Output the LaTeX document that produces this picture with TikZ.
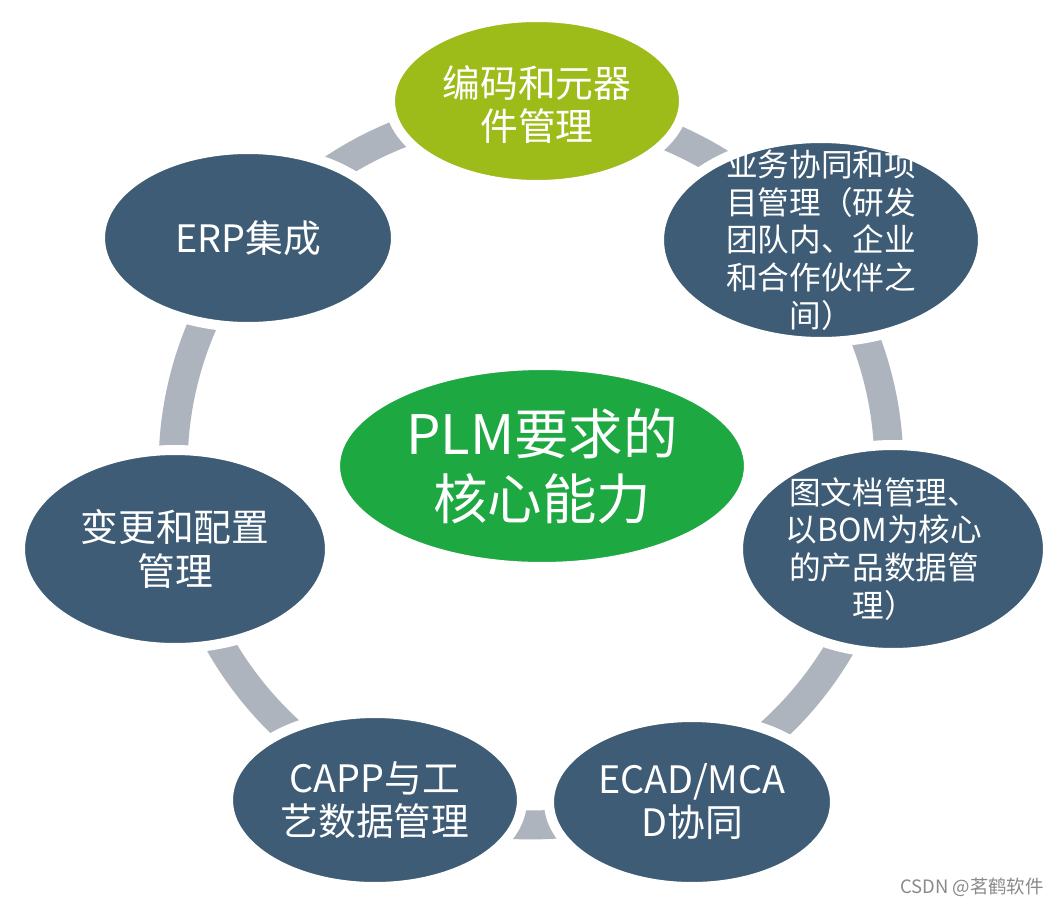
\documentclass[tikz,border=0pt]{standalone}
\usepackage{fontspec}
\setmainfont{Noto Sans CJK SC}
\usetikzlibrary{shapes.geometric}

\definecolor{plmNode}{HTML}{3E5C75}
\definecolor{plmLime}{HTML}{9DBB19}
\definecolor{plmCore}{HTML}{1EA842}
\definecolor{plmRing}{HTML}{AEB4BD}
\definecolor{plmMark}{HTML}{8A8A8A}

\tikzset{
  plmnode/.style={
    ellipse, draw=white, line width=0.2cm, fill=plmNode, inner sep=0pt
  },
  limenode/.style={plmnode, fill=plmLime},
  corenode/.style={plmnode, fill=plmCore},
  plmtext/.style={
    text=white, align=center, inner sep=0pt,
    font=\fontsize{18}{21.5}\selectfont
  },
  bigtext/.style={plmtext, font=\fontsize{21.5}{24.5}\selectfont},
  coretext/.style={plmtext, font=\fontsize{31}{37}\selectfont},
  ring/.style={draw=plmRing, line width=0.58cm},
  creditmark/.style={text=plmMark, inner sep=0pt, font=\fontsize{10.5}{12}\selectfont}
}

\begin{document}
\begin{tikzpicture}[x=0.02cm, y=-0.02cm]
  \useasboundingbox (0,0) rectangle (1064,906);
  \fill[white] (0,0) rectangle (1064,906);

  % gray ring behind the seven items
  \coordinate (hub) at (531,467);
  \draw[ring] (hub) circle[radius=7.16cm];

  % outer items
  \node[limenode, minimum width=5.88cm, minimum height=3.36cm] (coding) at (537,101) {};
  \node[plmnode, minimum width=6.48cm, minimum height=4.08cm] (collab) at (821,240) {};
  \node[plmnode, minimum width=6.20cm, minimum height=4.16cm] (docs) at (893,549) {};
  \node[plmnode, minimum width=5.72cm, minimum height=3.40cm] (ecad) at (692,802) {};
  \node[plmnode, minimum width=5.88cm, minimum height=3.48cm] (capp) at (375,800) {};
  \node[plmnode, minimum width=6.20cm, minimum height=3.96cm] (change) at (175,549) {};
  \node[plmnode, minimum width=5.92cm, minimum height=3.56cm] (erp) at (248,238) {};

  % centre
  \node[corenode, minimum width=8.28cm, minimum height=4.04cm] (core) at (542,466) {};

  % texts
  \node[bigtext] (coding-t) at ([yshift=-0.08cm]coding) {编码和元器\\件管理};
  \node[plmtext] (collab-t) at (collab) {业务协同和项\\目管理（研发\\团队内、企业\\和合作伙伴之\\间）};
  \node[plmtext] (docs-t) at ([xshift=-0.18cm]docs) {图文档管理、\\以BOM为核心\\的产品数据管\\理）};
  \node[bigtext] (ecad-t) at (ecad) {ECAD/MCA\\D协同};
  \node[bigtext] (capp-t) at (capp) {CAPP与工\\艺数据管理};
  \node[bigtext] (change-t) at (change) {变更和配置\\管理};
  \node[bigtext] (erp-t) at (erp) {ERP集成};
  \node[coretext] (core-t) at (core) {PLM要求的\\核心能力};

  \node[creditmark] (credit) at (972,887) {CSDN @茗鹤软件};
\end{tikzpicture}
\end{document}
